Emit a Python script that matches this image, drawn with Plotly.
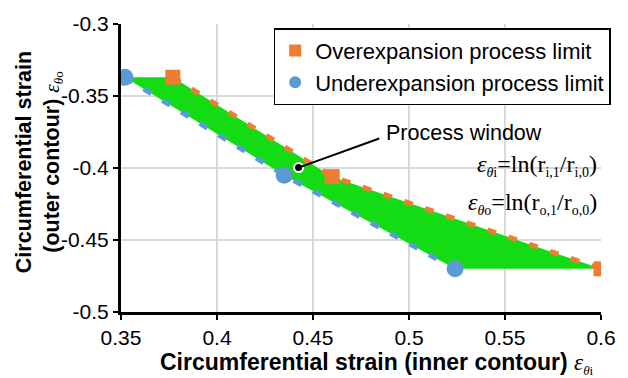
import plotly.graph_objects as go

# Data
over_x = [0.377, 0.460, 0.600]
over_y = [-0.337, -0.406, -0.470]
under_x = [0.352, 0.435, 0.524]
under_y = [-0.337, -0.405, -0.470]
window_point = (0.4425, -0.3997)

x_ticks = [0.35, 0.4, 0.45, 0.5, 0.55, 0.6]
y_ticks = [-0.3, -0.35, -0.4, -0.45, -0.5]

ORANGE = "#ED7D31"
BLUE = "#5B9BD5"
GREEN = "#14DC14"

fig = go.Figure()

# Process window polygon
poly_x = under_x[:1] + over_x + under_x[::-1]
poly_y = under_y[:1] + over_y + under_y[::-1]
fig.add_trace(go.Scatter(x=poly_x, y=poly_y, fill="toself", fillcolor=GREEN,
                         mode="lines", line=dict(width=0, color=GREEN),
                         showlegend=False, hoverinfo="skip"))

# Dashed boundary lines
fig.add_trace(go.Scatter(x=over_x, y=over_y, mode="lines",
                         line=dict(color=ORANGE, width=5, dash="9px,13px"),
                         showlegend=False))
fig.add_trace(go.Scatter(x=under_x, y=under_y, mode="lines",
                         line=dict(color=BLUE, width=5, dash="9px,13px"),
                         showlegend=False))

# Markers
fig.add_trace(go.Scatter(x=over_x, y=over_y, mode="markers",
                         marker=dict(symbol="square", color=ORANGE, size=15),
                         name="Overexpansion process limit"))
fig.add_trace(go.Scatter(x=under_x, y=under_y, mode="markers",
                         marker=dict(symbol="circle", color=BLUE, size=17),
                         name="Underexpansion process limit"))

# Arrow line for annotation
fig.add_shape(type="line", x0=window_point[0], y0=window_point[1],
              x1=0.4845, y1=-0.3795, line=dict(color="black", width=2))
fig.add_trace(go.Scatter(x=[window_point[0]], y=[window_point[1]], mode="markers",
                         marker=dict(color="black", size=9,
                                     line=dict(color="white", width=2)),
                         showlegend=False))

fig.add_annotation(x=0.487, y=-0.3755, xref="x", yref="y", showarrow=False,
                   xanchor="left", yanchor="middle",
                   text="Process window",
                   font=dict(family="Liberation Sans", size=21.5, color="black"))

serif = "Liberation Serif"
def sub(t, size=14):
    return '<sub><span style="font-size:%dpx">%s</span></sub>' % (size, t)

f1 = "<i>ε</i>" + sub("<i>θ</i>i") + "=ln(r" + sub("i,1") + "/r" + sub("i,0") + ")"
f2 = "<i>ε</i>" + sub("<i>θ</i>o") + "=ln(r" + sub("o,1") + "/r" + sub("o,0") + ")"
fig.add_annotation(x=0.599, y=-0.3985, xref="x", yref="y", showarrow=False,
                   xanchor="right", yanchor="middle", text=f1,
                   font=dict(family=serif, size=24, color="black"))
fig.add_annotation(x=0.599, y=-0.4245, xref="x", yref="y", showarrow=False,
                   xanchor="right", yanchor="middle", text=f2,
                   font=dict(family=serif, size=24, color="black"))

# Axis titles as annotations
eps = ('<span style="font-family:Liberation Serif;font-weight:normal"><i>ε</i>'
       '<sub><span style="font-size:13px"><i>θ</i>%s</span></sub></span>')
fig.add_annotation(x=0.533, y=-0.18, xref="paper", yref="paper", showarrow=False,
                   xanchor="center", yanchor="middle",
                   text="<b>Circumferential strain (inner contour)</b> " + (eps % "i"),
                   font=dict(family="Liberation Sans", size=23, color="black"))
fig.add_annotation(x=-0.171, y=0.52, xref="paper", yref="paper", showarrow=False,
                   xanchor="center", yanchor="middle", textangle=-90,
                   text="<b>Circumferential strain</b><br><b>(outer contour)</b> " + (eps % "o"),
                   font=dict(family="Liberation Sans", size=21.5, color="black"))

axis_common = dict(showgrid=True, gridcolor="#D9D9D9", gridwidth=1.5,
                   showline=True, linecolor="black", linewidth=3,
                   ticks="outside", ticklen=5, tickwidth=2, tickcolor="black",
                   tickfont=dict(family="Liberation Sans", size=21, color="black"),
                   zeroline=False)

fig.update_xaxes(range=[0.35, 0.6], tickvals=x_ticks,
                 ticktext=[f"{v:g}" for v in x_ticks], **axis_common)
fig.update_yaxes(range=[-0.5, -0.3], tickvals=y_ticks,
                 ticktext=[f"{v:g}" for v in y_ticks], **axis_common)

fig.update_layout(
    width=628, height=378,
    margin=dict(l=121, r=21, t=21, b=66),
    paper_bgcolor="white", plot_bgcolor="white",
    font=dict(family="Liberation Sans", color="black"),
    legend=dict(x=0.318, y=0.985, xanchor="left", yanchor="top",
                bgcolor="white", bordercolor="black", borderwidth=1.5,
                font=dict(family="Liberation Sans", size=22, color="black"),
                itemsizing="constant", tracegroupgap=0),
)

fig.write_html("out.html")
